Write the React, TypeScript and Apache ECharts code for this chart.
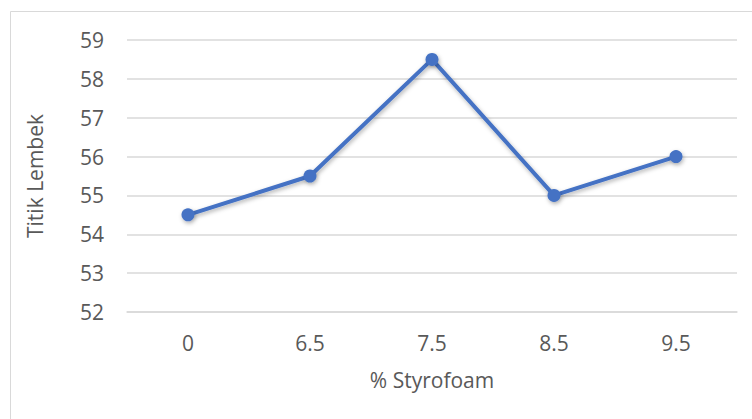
import React, { useEffect, useRef } from "react";
import * as echarts from "echarts";

const categories = ["0", "6.5", "7.5", "8.5", "9.5"];
const softeningPoint = [54.5, 55.5, 58.5, 55, 56];
const yMin = 52;
const yMax = 59;

const FONT = "'Open Sans', 'Liberation Sans', sans-serif";
const TEXT = "#595959";
const GRID = "#d9d9d9";
const BLUE = "#4472C4";
const FS = 21;

export default function App() {
  const ref = useRef<HTMLDivElement>(null);

  useEffect(() => {
    if (!ref.current) return;
    const chart = echarts.init(ref.current, undefined, { renderer: "svg" });
    chart.setOption({
      animation: false,
      backgroundColor: "#ffffff",
      textStyle: { fontFamily: FONT },
      graphic: [
        {
          type: "rect",
          shape: { x: 10.5, y: 11.5, width: 900, height: 600 },
          style: { fill: "none", stroke: GRID, lineWidth: 1 },
          silent: true,
        },
      ],
      grid: { left: 127, right: 15, top: 40, bottom: 107 },
      xAxis: {
        type: "category",
        data: categories,
        boundaryGap: true,
        name: "% Styrofoam",
        nameLocation: "middle",
        nameGap: 57,
        nameTextStyle: { color: TEXT, fontSize: FS, fontFamily: FONT },
        axisLine: { show: true, lineStyle: { color: GRID, width: 1.5 } },
        axisTick: { show: false },
        axisLabel: { color: TEXT, fontSize: FS, margin: 20, fontFamily: FONT },
      },
      yAxis: {
        type: "value",
        min: yMin,
        max: yMax,
        interval: 1,
        name: "Titik Lembek",
        nameLocation: "middle",
        nameGap: 82,
        nameRotate: 90,
        nameTextStyle: { color: TEXT, fontSize: FS, fontFamily: FONT },
        axisLine: { show: false },
        axisTick: { show: false },
        axisLabel: { color: TEXT, fontSize: FS, margin: 23, fontFamily: FONT },
        splitLine: { show: true, lineStyle: { color: GRID, width: 1.5 } },
      },
      series: [
        {
          type: "line",
          data: softeningPoint,
          symbol: "circle",
          symbolSize: 13,
          lineStyle: {
            color: BLUE,
            width: 4,
            shadowColor: "rgba(0,0,0,0.3)",
            shadowBlur: 4,
            shadowOffsetY: 2,
            shadowOffsetX: 1,
          },
          itemStyle: {
            color: BLUE,
            borderWidth: 0,
            shadowColor: "rgba(0,0,0,0.3)",
            shadowBlur: 4,
            shadowOffsetY: 2,
            shadowOffsetX: 1,
          },
        },
      ],
    });
    return () => chart.dispose();
  }, []);

  return (
    <div
      ref={ref}
      style={{ position: "fixed", left: 0, top: 0, width: 752, height: 419 }}
    />
  );
}
